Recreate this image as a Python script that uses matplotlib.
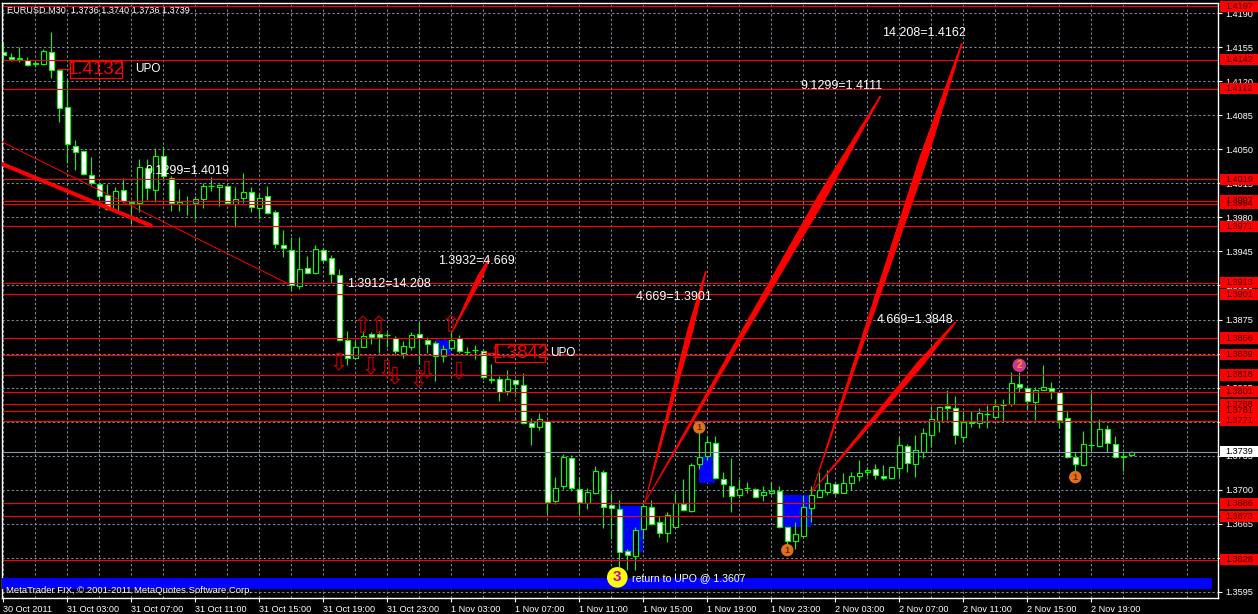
import numpy as np
import matplotlib
matplotlib.use('Agg')
import matplotlib.pyplot as plt
import matplotlib.transforms as mtransforms
from matplotlib.collections import LineCollection
from matplotlib.patches import Rectangle

plt.rcParams['font.family'] = ['Liberation Sans', 'DejaVu Sans']

# EURUSD M30 candles, first bar 30 Oct 2011 23:00
opens = [1.4150, 1.4145, 1.4143, 1.4142, 1.4138, 1.4138, 1.4150, 1.4131, 1.4093, 1.4053,
         1.4048, 1.4024, 1.4014, 1.4003, 1.3987, 1.4008, 1.3995, 1.3995, 1.4031, 1.4008,
         1.4043, 1.4020, 1.3994, 1.3997, 1.3995, 1.3999, 1.4012, 1.4011, 1.4012, 1.3994,
         1.4000, 1.4006, 1.3990, 1.4002, 1.3985, 1.3952, 1.3946, 1.3909, 1.3928, 1.3923,
         1.3946, 1.3938, 1.3921, 1.3854, 1.3835, 1.3847, 1.3860, 1.3860, 1.3859, 1.3856,
         1.3841, 1.3847, 1.3860, 1.3854, 1.3851, 1.3838, 1.3846, 1.3856, 1.3842, 1.3844,
         1.3843, 1.3813, 1.3814, 1.3802, 1.3813, 1.3808, 1.3769, 1.3765, 1.3771, 1.3688,
         1.3704, 1.3733, 1.3701, 1.3686, 1.3697, 1.3718, 1.3684, 1.3680, 1.3637, 1.3632,
         1.3660, 1.3682, 1.3667, 1.3656, 1.3662, 1.3685, 1.3678, 1.3727, 1.3735, 1.3748,
         1.3711, 1.3704, 1.3695, 1.3702, 1.3701, 1.3695, 1.3697, 1.3699, 1.3662, 1.3647,
         1.3653, 1.3681, 1.3693, 1.3698, 1.3706, 1.3697, 1.3707, 1.3714, 1.3718, 1.3721,
         1.3714, 1.3712, 1.3722, 1.3745, 1.3727, 1.3739, 1.3756, 1.3771, 1.3786, 1.3784,
         1.3754, 1.3770, 1.3769, 1.3778, 1.3775, 1.3787, 1.3788, 1.3809, 1.3805, 1.3790,
         1.3803, 1.3805, 1.3801, 1.3774, 1.3734, 1.3725, 1.3746, 1.3745, 1.3763, 1.3747,
         1.3734, 1.3736]
highs = [1.4160, 1.4149, 1.4155, 1.4145, 1.4142, 1.4153, 1.4170, 1.4132, 1.4122, 1.4060,
         1.4049, 1.4042, 1.4016, 1.4014, 1.4011, 1.4020, 1.3998, 1.4040, 1.4040, 1.4051,
         1.4053, 1.4022, 1.4009, 1.4002, 1.4002, 1.4015, 1.4021, 1.4014, 1.4013, 1.4011,
         1.4026, 1.4011, 1.4005, 1.4012, 1.3988, 1.3967, 1.3960, 1.3960, 1.3940, 1.3952,
         1.3948, 1.3941, 1.3927, 1.3863, 1.3853, 1.3863, 1.3862, 1.3863, 1.3862, 1.3858,
         1.3853, 1.3862, 1.3872, 1.3857, 1.3853, 1.3849, 1.3862, 1.3859, 1.3847, 1.3849,
         1.3844, 1.3829, 1.3817, 1.3823, 1.3814, 1.3820, 1.3774, 1.3779, 1.3772, 1.3713,
         1.3737, 1.3736, 1.3713, 1.3702, 1.3724, 1.3720, 1.3697, 1.3690, 1.3639, 1.3662,
         1.3687, 1.3690, 1.3673, 1.3677, 1.3697, 1.3711, 1.3728, 1.3769, 1.3755, 1.3755,
         1.3718, 1.3733, 1.3711, 1.3708, 1.3702, 1.3704, 1.3708, 1.3704, 1.3662, 1.3667,
         1.3695, 1.3704, 1.3718, 1.3720, 1.3708, 1.3717, 1.3718, 1.3731, 1.3723, 1.3727,
         1.3726, 1.3723, 1.3754, 1.3747, 1.3756, 1.3764, 1.3786, 1.3786, 1.3803, 1.3796,
         1.3781, 1.3781, 1.3784, 1.3787, 1.3793, 1.3793, 1.3821, 1.3821, 1.3806, 1.3806,
         1.3828, 1.3811, 1.3801, 1.3782, 1.3739, 1.3760, 1.3801, 1.3773, 1.3767, 1.3755,
         1.3739, 1.3740]
lows = [1.4140, 1.4141, 1.4140, 1.4136, 1.4135, 1.4137, 1.4123, 1.4078, 1.4036, 1.4029,
        1.4024, 1.4013, 1.3998, 1.3988, 1.3985, 1.3995, 1.3973, 1.3985, 1.3998, 1.3996,
        1.4017, 1.3987, 1.3987, 1.3982, 1.3978, 1.3990, 1.4007, 1.3992, 1.3994, 1.3970,
        1.3995, 1.3986, 1.3978, 1.3983, 1.3949, 1.3939, 1.3904, 1.3906, 1.3922, 1.3922,
        1.3934, 1.3913, 1.3853, 1.3828, 1.3834, 1.3847, 1.3850, 1.3841, 1.3847, 1.3840,
        1.3835, 1.3844, 1.3829, 1.3841, 1.3812, 1.3831, 1.3844, 1.3841, 1.3840, 1.3834,
        1.3814, 1.3810, 1.3791, 1.3797, 1.3798, 1.3768, 1.3746, 1.3761, 1.3675, 1.3685,
        1.3701, 1.3699, 1.3674, 1.3680, 1.3696, 1.3661, 1.3649, 1.3621, 1.3618, 1.3618,
        1.3649, 1.3664, 1.3652, 1.3646, 1.3661, 1.3678, 1.3677, 1.3721, 1.3731, 1.3711,
        1.3693, 1.3677, 1.3692, 1.3697, 1.3692, 1.3689, 1.3695, 1.3661, 1.3641, 1.3639,
        1.3652, 1.3667, 1.3693, 1.3695, 1.3695, 1.3697, 1.3700, 1.3709, 1.3714, 1.3711,
        1.3710, 1.3711, 1.3713, 1.3718, 1.3713, 1.3733, 1.3744, 1.3759, 1.3772, 1.3747,
        1.3749, 1.3765, 1.3764, 1.3764, 1.3774, 1.3770, 1.3786, 1.3800, 1.3783, 1.3772,
        1.3803, 1.3793, 1.3765, 1.3733, 1.3713, 1.3724, 1.3739, 1.3744, 1.3739, 1.3733,
        1.3719, 1.3736]
closes = [1.4147, 1.4143, 1.4144, 1.4137, 1.4139, 1.4151, 1.4131, 1.4092, 1.4055, 1.4047,
          1.4025, 1.4015, 1.4002, 1.3989, 1.4007, 1.3997, 1.3996, 1.4032, 1.4010, 1.4043,
          1.4022, 1.3995, 1.3996, 1.3997, 1.3999, 1.4012, 1.4012, 1.4013, 1.3995, 1.3999,
          1.4006, 1.3991, 1.4000, 1.3984, 1.3953, 1.3948, 1.3910, 1.3927, 1.3923, 1.3947,
          1.3936, 1.3922, 1.3854, 1.3835, 1.3847, 1.3858, 1.3857, 1.3857, 1.3859, 1.3843,
          1.3848, 1.3859, 1.3856, 1.3850, 1.3837, 1.3845, 1.3854, 1.3843, 1.3842, 1.3844,
          1.3816, 1.3814, 1.3801, 1.3814, 1.3809, 1.3769, 1.3765, 1.3773, 1.3687, 1.3702,
          1.3734, 1.3702, 1.3687, 1.3698, 1.3719, 1.3682, 1.3681, 1.3636, 1.3633, 1.3659,
          1.3683, 1.3665, 1.3656, 1.3674, 1.3686, 1.3679, 1.3726, 1.3734, 1.3749, 1.3712,
          1.3706, 1.3694, 1.3701, 1.3702, 1.3693, 1.3698, 1.3699, 1.3662, 1.3647, 1.3655,
          1.3682, 1.3695, 1.3700, 1.3707, 1.3697, 1.3707, 1.3714, 1.3717, 1.3720, 1.3715,
          1.3712, 1.3723, 1.3746, 1.3728, 1.3741, 1.3758, 1.3773, 1.3785, 1.3784, 1.3756,
          1.3770, 1.3769, 1.3779, 1.3778, 1.3786, 1.3787, 1.3810, 1.3806, 1.3791, 1.3803,
          1.3806, 1.3802, 1.3772, 1.3734, 1.3727, 1.3747, 1.3746, 1.3762, 1.3748, 1.3734,
          1.3735, 1.3739]

time_labels = ['30 Oct 2011', '31 Oct 03:00', '31 Oct 07:00', '31 Oct 11:00', '31 Oct 15:00',
               '31 Oct 19:00', '31 Oct 23:00', '1 Nov 03:00', '1 Nov 07:00', '1 Nov 11:00',
               '1 Nov 15:00', '1 Nov 19:00', '1 Nov 23:00', '2 Nov 03:00', '2 Nov 07:00',
               '2 Nov 11:00', '2 Nov 15:00', '2 Nov 19:00']
price_ticks = [1.3595, 1.3630, 1.3665, 1.3700, 1.3735, 1.3770, 1.3805, 1.3840, 1.3875,
               1.3910, 1.3945, 1.3980, 1.4015, 1.4050, 1.4085, 1.4120, 1.4155, 1.4190]
level_lines = [1.4197, 1.4142, 1.4112, 1.4019, 1.3997, 1.3994, 1.3971, 1.3913, 1.3901,
               1.3856, 1.3839, 1.3818, 1.3801, 1.3788, 1.3781, 1.3771, 1.3686, 1.3673, 1.3628]
current_price = 1.3739

# blue rectangles: bar from, bar to, price low, price high
rect_x0 = [54, 77, 87, 97.3]
rect_x1 = [56, 80, 89, 101]
rect_lo = [1.3837, 1.3636, 1.3707, 1.3662]
rect_hi = [1.3854, 1.3683, 1.3735, 1.3695]
band_lo, band_hi = 1.3598, 1.3609

# straight trend lines
trend_x0 = [-0.5, -0.5]
trend_p0 = [1.4059, 1.4036]
trend_x1 = [35.8, 18.6]
trend_p1 = [1.3911, 1.3971]
trend_w = [0.7, 2.9]

# fan lines (tapered)
fan_x0 = [56.1, 80.2, 80.2, 101.1, 101.1]
fan_p0 = [1.3862, 1.3687, 1.3687, 1.3698, 1.3698]
fan_x1 = [60.7, 87.8, 109.6, 119.8, 119.0]
fan_p1 = [1.3937, 1.3924, 1.4104, 1.4158, 1.3872]
fan_w = [4.0, 4.4, 6.2, 6.0, 4.8]

note_text = ['9.1299=1.4019', '1.3912=14.208', '1.3932=4.669', '4.669=1.3901',
             '9.1299=1.4111', '14.208=1.4162', '4.669=1.3848']
note_x = [17.7, 42.96, 54.3, 79.1, 99.6, 109.8, 109.2]
note_p = [1.4028, 1.3912, 1.3935, 1.3898, 1.4115, 1.4169, 1.3875]

# UPO marks: box from bar, box to bar, price, text, UPO text bar
upo_x0 = [8.34, 61.5]
upo_x1 = [14.84, 67.7]
upo_p = [1.4132, 1.38405]
upo_txt = ['1.4132', '1.3842']
upo_lbl_x = [16.5, 68.3]

up_x = [45, 47, 56]
up_p = [1.3868, 1.3868, 1.3869]
down_x = [42, 46, 48, 49, 52, 53, 57]
down_p = [1.3831, 1.3827, 1.3824, 1.3817, 1.3814, 1.3823, 1.3822]

dot_x = [87, 98, 134, 127, 76.75]
dot_p = [1.3764, 1.3638, 1.3713, 1.3828, 1.3610]
dot_txt = ['1', '1', '1', '2', '3']

GRID = '#7d8a97'
LIME = '#00ff00'

fig = plt.figure(figsize=(12.58, 6.14), dpi=100, facecolor='black')
ax = fig.add_axes([2 / 1258, 16 / 614, 1216 / 1258, 595 / 614])
ax.set_facecolor('black')
ax.set_xlim(-0.1625, 151.84)
ax.set_ylim(1.35888, 1.42003)

# grid
ax.set_yticks(price_ticks)
ax.set_yticklabels([f'{v:.4f}' for v in price_ticks])
ax.set_xticks(np.arange(0, 8 * len(time_labels), 8))
ax.set_xticklabels(time_labels, ha='left')
ax.set_xticks(np.arange(4, 150, 8), minor=True)
ax.grid(True, which='both', color=GRID, lw=0.75, ls=(0, (2.2, 2.2)), zorder=0.5)
ax.set_axisbelow(True)
ax.yaxis.tick_right()
ax.tick_params(axis='both', which='major', colors='white', labelsize=6.6, length=3, width=0.8)
ax.tick_params(axis='x', which='major', pad=2)
ax.tick_params(axis='x', which='minor', length=0)
ax.tick_params(axis='y', pad=2)
for s in ax.spines.values():
    s.set_color('white')
    s.set_linewidth(1)

# blue rectangles (behind candles)
for x0, x1, lo, hi in zip(rect_x0, rect_x1, rect_lo, rect_hi):
    ax.add_patch(Rectangle((x0, lo), x1 - x0, hi - lo, color='#0000ff', lw=0, zorder=1))

# candles
o = np.array(opens); h = np.array(highs); l = np.array(lows); c = np.array(closes)
x = np.arange(len(o))
ax.vlines(x, l, h, colors=LIME, lw=0.8, zorder=2)
bull = c > o
bear = c < o
doji = c == o
ax.bar(x[bull], (c - o)[bull], bottom=o[bull], width=0.6, color='black',
       edgecolor=LIME, lw=0.8, zorder=2.1)
ax.bar(x[bear], (o - c)[bear], bottom=c[bear], width=0.6, color='white',
       edgecolor=LIME, lw=0.8, zorder=2.1)
ax.hlines(o[doji], x[doji] - 0.35, x[doji] + 0.35, colors=LIME, lw=0.9, zorder=2.1)

# horizontal levels and current price
for p in level_lines:
    ax.axhline(p, color='#ff0000', lw=0.8, zorder=2.5)
ax.axhline(current_price, color='#8896a5', lw=0.8, zorder=2.4)

# trend lines
for x0, p0, x1, p1, w in zip(trend_x0, trend_p0, trend_x1, trend_p1, trend_w):
    ax.plot([x0, x1], [p0, p1], color='#ff0000', lw=w, solid_capstyle='butt', zorder=3)


def fan(x0, p0, x1, p1, wmax, n=40):
    t = np.linspace(0, 1, n + 1)
    xs = x0 + (x1 - x0) * t
    ps = p0 + (p1 - p0) * t
    segs = np.stack([np.column_stack([xs[:-1], ps[:-1]]),
                     np.column_stack([xs[1:], ps[1:]])], axis=1)
    tm = (t[:-1] + t[1:]) / 2
    w = np.where(tm < 0.75, 0.6 + (wmax - 0.6) * tm / 0.75,
                 wmax - (wmax - 1.2) * (tm - 0.75) / 0.25)
    ax.add_collection(LineCollection(segs, linewidths=w, colors='#ff0000',
                                     capstyle='round', zorder=3))


for args in zip(fan_x0, fan_p0, fan_x1, fan_p1, fan_w):
    fan(*args)

# bottom blue band
ax.add_patch(Rectangle((-1, band_lo), 152.1, band_hi - band_lo, color='#0000ff', lw=0, zorder=3.5))

# notes
for t, bx, p in zip(note_text, note_x, note_p):
    ax.text(bx, p, t, color='white', fontsize=9, ha='left', va='center', zorder=4)

# UPO price labels
for bx0, bx1, p, t, lbl_x in zip(upo_x0, upo_x1, upo_p, upo_txt, upo_lbl_x):
    ax.add_patch(Rectangle((bx0, p - 0.00092), bx1 - bx0, 0.00184, fill=False,
                           edgecolor='#ff0000', lw=0.9, zorder=4))
    ax.plot([bx0 - 1.5, bx0], [p, p], color='#ff0000', lw=0.9, zorder=4)
    ax.text((bx0 + bx1) / 2, p, t, color='#ff0000', fontsize=13.5,
            family=['Liberation Sans Narrow', 'Liberation Sans'], ha='center', va='center', zorder=4)
    ax.text(lbl_x, p, 'UPO', color='white', fontsize=8.5, ha='left', va='center', zorder=4)

ax.text(78.6, 1.3609, 'return to UPO @ 1.3607', color='white', fontsize=7.6,
        ha='left', va='center', zorder=4)

# arrows
for bx, p in zip(up_x, up_p):
    ax.text(bx, p, '\u21e7', color='#c00000', fontsize=17, family='DejaVu Sans',
            ha='center', va='center', zorder=4)
for bx, p in zip(down_x, down_p):
    ax.text(bx, p, '\u21e9', color='#c00000', fontsize=17, family='DejaVu Sans',
            ha='center', va='center', zorder=4)

# numbered dots
dot_face = {'1': '#e0701e', '2': '#d0348e', '3': '#ffff00'}
dot_fg = {'1': '#6a2a00', '2': '#f0a020', '3': '#c000c0'}
dot_size = {'1': 80, '2': 95, '3': 220}
dot_font = {'1': 6.5, '2': 7, '3': 11}
for bx, p, t in zip(dot_x, dot_p, dot_txt):
    ax.scatter([bx], [p], s=dot_size[t], color=dot_face[t], edgecolors='none', zorder=5)
    ax.text(bx, p, t, color=dot_fg[t], fontsize=dot_font[t], fontweight='bold',
            ha='center', va='center', zorder=6)

# right axis price boxes
trans = mtransforms.blended_transform_factory(ax.transAxes, ax.transData)
for p in level_lines:
    ax.add_patch(Rectangle((1.0016, p - 0.00057), 0.0315, 0.00114, transform=trans,
                           color='#ff0000', lw=0, clip_on=False, zorder=7))
    ax.text(1.0174, p, f'{p:.4f}', transform=trans, color='#3a0000', fontsize=6.6,
            ha='center', va='center', clip_on=False, zorder=8)
ax.add_patch(Rectangle((1.0016, current_price - 0.00057), 0.0315, 0.00114, transform=trans,
                       color='white', lw=0, clip_on=False, zorder=7))
ax.text(1.0174, current_price, f'{current_price:.4f}', transform=trans, color='black',
        fontsize=6.6, ha='center', va='center', clip_on=False, zorder=8)

# header and footer
ax.text(0.004, 0.988, 'EURUSD,M30  1.3736 1.3740 1.3736 1.3739', transform=ax.transAxes,
        color='white', fontsize=6.6, ha='left', va='center', zorder=8)
ax.text(0.003, 0.013, 'MetaTrader FIX, \u00a9 2001-2011 MetaQuotes Software Corp.',
        transform=ax.transAxes, color='white', fontsize=6.8, ha='left', va='center', zorder=8)

fig.savefig('out.png', dpi=100, facecolor='black')
